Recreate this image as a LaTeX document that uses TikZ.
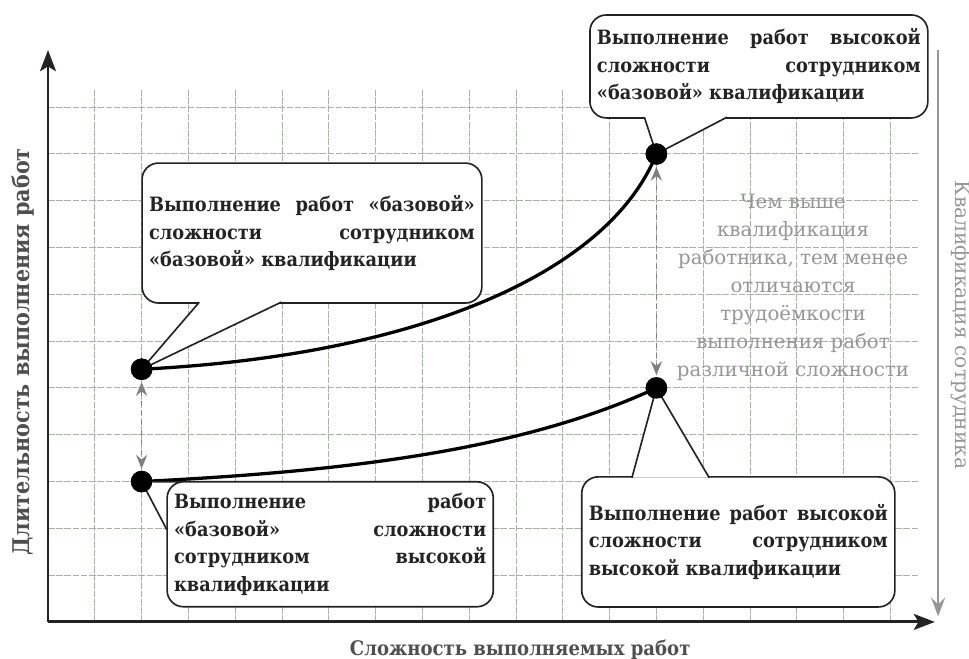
\documentclass[tikz,border=0pt]{standalone}
\usepackage{fontspec}
\setmainfont{DejaVu Serif}
\newfontfamily\condfont{DejaVu Serif Condensed}
\usetikzlibrary{arrows.meta}
\definecolor{gridgray}{RGB}{170,178,170}
\definecolor{notegray}{RGB}{150,150,150}
\definecolor{inkgray}{RGB}{35,35,35}
\newcommand{\dotsize}{.46cm}

\begin{document}
\begin{tikzpicture}[
    gridline/.style={draw=gridgray, line width=.6pt, dash pattern=on 4pt off 1pt},
    axis/.style={draw=inkgray, line width=1.8pt, -{Stealth[length=4.5mm,width=3.4mm,inset=1mm]}},
    curve/.style={draw=black, line width=2pt},
    dot/.style={circle, fill=black, inner sep=0pt, minimum size=\dotsize},
    gap/.style={draw=gray, line width=.9pt, dashed, {Stealth[length=3mm,width=2.4mm,inset=1mm]}-{Stealth[length=3mm,width=2.4mm,inset=1mm]}, shorten <=1pt, shorten >=1pt},
    callbox/.style={draw=inkgray, fill=white, line width=1pt, rounded corners=.35cm, inner xsep=.15cm, align=justify, text=inkgray, font=\condfont\bfseries\fontsize{12}{16.7}\selectfont},
    ptr/.style={draw=inkgray, fill=white, line width=1pt, line join=miter}
  ]
  \useasboundingbox (-1.026,-.79) rectangle (19.68,13.29);

  \foreach \i in {1,...,18}
           \draw[gridline] (\i,0) -- (\i,11.37);
  \foreach \j in {1,...,11}
           \draw[gridline] (0,\j) -- (18.59,\j);

  \coordinate (O) at (0,0);
  \coordinate (ytip) at (0,12.22);
  \coordinate (xtip) at (18.95,0);
  \coordinate (qtop) at (19.02,12.22);
  \coordinate (qbot) at (19.02,.12);
  \draw[axis] (O) -- (ytip);
  \draw[axis] (O) -- (xtip);
  \draw[draw=notegray, line width=1.4pt, -{Stealth[length=4mm,width=3mm,inset=1.5mm]}] (qtop) -- (qbot);

  \node (A) at (2,3)   [dot] {};
  \node (B) at (2,5.4) [dot] {};
  \node (C) at (13,10) [dot] {};
  \node (D) at (13,5)  [dot] {};

  \draw[curve] (B.center) .. controls (8,5.7) and (12,7.5) .. (C.center);
  \draw[curve] (A.center) .. controls (6,3.2) and (10,3.6) .. (D.center);
  \draw[gap] (B) -- (A);
  \draw[gap] (C) -- (D);

  \node (bb) at (5.64,8.31) [callbox, text width=6.96cm, minimum height=2.99cm]
        {Выполнение работ «базовой»\linebreak сложности сотрудником\linebreak «базовой» квалификации};
  \draw[ptr] ([xshift=1.24cm,yshift=1pt]bb.south west) -- (B.center) -- ([xshift=2.99cm,yshift=1pt]bb.south west);

  \node (hb) at (15.19,11.87) [callbox, text width=6.92cm, minimum height=2.2cm]
        {Выполнение работ высокой\linebreak сложности сотрудником\linebreak «базовой» квалификации};
  \draw[ptr] ([xshift=1.18cm,yshift=1pt]hb.south west) -- (C.center) -- ([xshift=2.95cm,yshift=1pt]hb.south west);

  % pointer under the box, so that the rounded corner shows
  \coordinate (bhT) at (2.93,2.99);
  \coordinate (bhL) at (2.54,1.97);
  \draw[ptr] (bhT) -- (A.center) -- (bhL);
  \node (bh) at (6.03,1.66) [callbox, text width=6.67cm, minimum height=2.67cm]
        {Выполнение работ\linebreak «базовой» сложности\linebreak сотрудником высокой\linebreak квалификации};

  \node (hh) at (14.75,1.71) [callbox, text width=6.39cm, minimum height=2.78cm]
        {Выполнение работ высокой\linebreak сложности сотрудником\linebreak высокой квалификации};
  \draw[ptr] ([xshift=1.09cm,yshift=-1pt]hh.north west) -- (D.center) -- ([xshift=2.74cm,yshift=-1pt]hh.north west);

  \node (A) at (2,3)   [dot] {};
  \node (B) at (2,5.4) [dot] {};
  \node (C) at (13,10) [dot] {};
  \node (D) at (13,5)  [dot] {};

  \node (note) at (15.92,7.15) [align=center, text=notegray, font=\fontsize{12}{17}\selectfont]
        {Чем выше\\ квалификация\\ работника, тем менее\\ отличаются\\ трудоёмкости\\ выполнения работ\\ различной сложности};

  \node (ylab) at (-.534,5.77) [rotate=90, text=inkgray!80, font=\condfont\bfseries\fontsize{14}{15}\selectfont]
        {Длительность выполнения работ};
  \node (xlab) at (10.09,-.6) [text=inkgray!80, font=\condfont\bfseries\fontsize{12.2}{15}\selectfont]
        {Сложность выполняемых работ};
  \node (qlab) at (19.51,6.35) [rotate=-90, text=notegray, font=\fontsize{12.3}{15}\selectfont]
        {Квалификация сотрудника};
\end{tikzpicture}
\end{document}
